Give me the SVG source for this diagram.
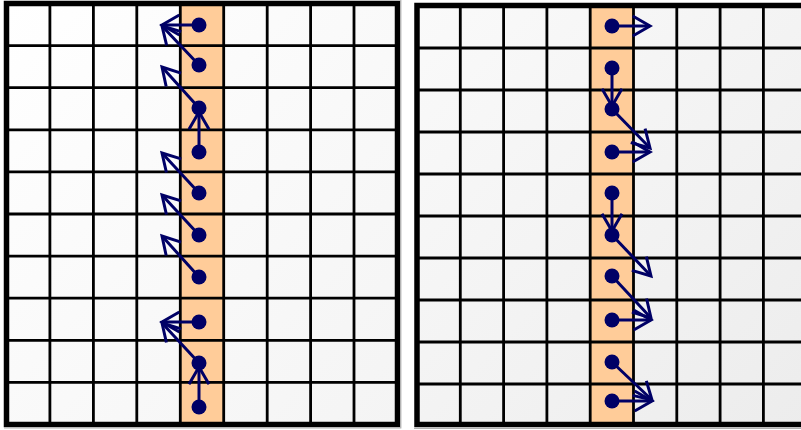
<svg xmlns="http://www.w3.org/2000/svg" width="801" height="430" viewBox="0 0 801 430">
<defs>
<linearGradient id="bgL" x1="0" y1="0" x2="1" y2="1">
<stop offset="0" stop-color="#ffffff"/>
<stop offset="1" stop-color="#f4f4f4"/>
</linearGradient>
<linearGradient id="bgR" x1="0" y1="0" x2="1" y2="1">
<stop offset="0" stop-color="#fafafa"/>
<stop offset="1" stop-color="#ececec"/>
</linearGradient>
<marker id="ah" markerUnits="userSpaceOnUse" markerWidth="40" markerHeight="40" refX="0" refY="0" orient="auto" overflow="visible">
<path d="M -17.3 -10 L 0 0 L -17.3 10" fill="none" stroke="#000066" stroke-width="3" stroke-linejoin="miter"/>
</marker>
</defs>
<style>
.grid{stroke:#000;stroke-width:2.8;fill:none}
.border{stroke:#000;stroke-width:5.5;fill:none}
.lane{fill:#ffcc99}
.arr{stroke:#000066;stroke-width:3;fill:none;marker-end:url(#ah)}
.dot{fill:#000066}
.shadow{stroke:#b0b0b0;stroke-width:1.2}
</style>
<rect x="0" y="0" width="801" height="430" fill="#ffffff"/>

<g id="panel-left">
<rect x="6.5" y="3.5" width="391" height="421" fill="url(#bgL)"/>
<rect class="lane" x="180.3" y="3.5" width="43.4" height="421"/>
<path class="grid" d="M49.9 3.5V424.5M93.4 3.5V424.5M136.8 3.5V424.5M180.3 3.5V424.5M223.7 3.5V424.5M267.2 3.5V424.5M310.6 3.5V424.5M354 3.5V424.5M6.5 45.6H397.5M6.5 87.7H397.5M6.5 129.8H397.5M6.5 171.9H397.5M6.5 214H397.5M6.5 256.1H397.5M6.5 298.2H397.5M6.5 340.3H397.5M6.5 382.4H397.5"/>
<rect class="border" x="6.5" y="3.5" width="391" height="421"/>
<path class="shadow" d="M400.8 0V428.5M4 428H401"/>
</g>

<g id="panel-right">
<rect x="417" y="5.5" width="400" height="419" fill="url(#bgR)"/>
<rect class="lane" x="590.2" y="5.5" width="43.3" height="419"/>
<path class="grid" d="M460.3 5.5V424.5M503.6 5.5V424.5M546.9 5.5V424.5M590.2 5.5V424.5M633.5 5.5V424.5M676.8 5.5V424.5M720.1 5.5V424.5M763.4 5.5V424.5M417 48H801M417 90H801M417 132H801M417 174H801M417 216H801M417 258H801M417 300H801M417 342H801M417 384H801"/>
<path class="border" d="M801 5.5H417V424.5H801"/>
<path class="shadow" d="M414 428.5H801"/>
</g>

<g id="connectors">
<line class="arr" x1="199" y1="25" x2="162" y2="25"/>
<line class="arr" x1="199" y1="65" x2="162" y2="26"/>
<line class="arr" x1="199" y1="108" x2="162" y2="67"/>
<line class="arr" x1="199" y1="152" x2="199" y2="112"/>
<line class="arr" x1="199" y1="193" x2="162" y2="153"/>
<line class="arr" x1="199" y1="235" x2="162" y2="195"/>
<line class="arr" x1="199" y1="277" x2="162" y2="236"/>
<line class="arr" x1="199" y1="322" x2="162" y2="322"/>
<line class="arr" x1="199" y1="363" x2="162" y2="323"/>
<line class="arr" x1="199" y1="407" x2="199" y2="367"/>

<line class="arr" x1="612" y1="26" x2="650" y2="26"/>
<line class="arr" x1="612" y1="68" x2="612" y2="106"/>
<line class="arr" x1="612" y1="109" x2="650" y2="148"/>
<line class="arr" x1="612" y1="152" x2="650" y2="152"/>
<line class="arr" x1="612" y1="193" x2="612" y2="231"/>
<line class="arr" x1="612" y1="235" x2="651" y2="276"/>
<line class="arr" x1="612" y1="276" x2="651" y2="318"/>
<line class="arr" x1="612" y1="320" x2="651" y2="320"/>
<line class="arr" x1="612" y1="362" x2="652" y2="400"/>
<line class="arr" x1="612" y1="401" x2="652" y2="401"/>
</g>

<g id="L1"><circle class="dot" cx="199" cy="25" r="7.5"/></g>
<g id="L2"><circle class="dot" cx="199" cy="65" r="7.5"/></g>
<g id="L3"><circle class="dot" cx="199" cy="108" r="7.5"/></g>
<g id="L4"><circle class="dot" cx="199" cy="152" r="7.5"/></g>
<g id="L5"><circle class="dot" cx="199" cy="193" r="7.5"/></g>
<g id="L6"><circle class="dot" cx="199" cy="235" r="7.5"/></g>
<g id="L7"><circle class="dot" cx="199" cy="277" r="7.5"/></g>
<g id="L8"><circle class="dot" cx="199" cy="322" r="7.5"/></g>
<g id="L9"><circle class="dot" cx="199" cy="363" r="7.5"/></g>
<g id="L10"><circle class="dot" cx="199" cy="407" r="7.5"/></g>

<g id="R1"><circle class="dot" cx="612" cy="26" r="7.5"/></g>
<g id="R2"><circle class="dot" cx="612" cy="68" r="7.5"/></g>
<g id="R3"><circle class="dot" cx="612" cy="109" r="7.5"/></g>
<g id="R4"><circle class="dot" cx="612" cy="152" r="7.5"/></g>
<g id="R5"><circle class="dot" cx="612" cy="193" r="7.5"/></g>
<g id="R6"><circle class="dot" cx="612" cy="235" r="7.5"/></g>
<g id="R7"><circle class="dot" cx="612" cy="276" r="7.5"/></g>
<g id="R8"><circle class="dot" cx="612" cy="320" r="7.5"/></g>
<g id="R9"><circle class="dot" cx="612" cy="362" r="7.5"/></g>
<g id="R10"><circle class="dot" cx="612" cy="401" r="7.5"/></g>
</svg>
